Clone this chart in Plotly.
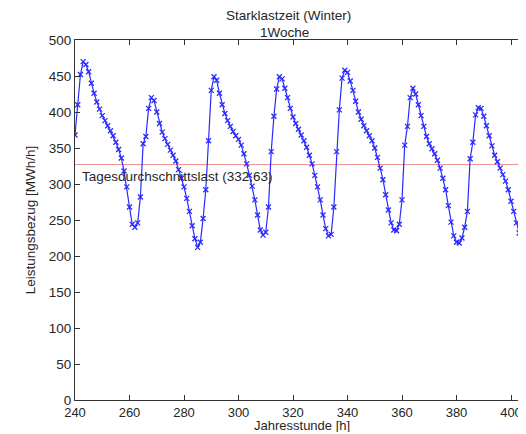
import plotly.graph_objects as go

hours = list(range(240, 406))
load = [
    368, 410, 452, 470, 466, 456, 440, 426, 414, 404,   # 240-249
    395, 388, 381, 374, 367, 358, 348, 336, 318, 296,   # 250-259
    268, 244, 240, 246, 282, 356, 366, 405, 420, 416,   # 260-269
    400, 384, 372, 363, 355, 347, 340, 332, 320, 308,   # 270-279
    296, 280, 262, 242, 224, 212, 219, 252, 292, 360,   # 280-289
    430, 449, 444, 426, 410, 398, 388, 380, 373, 367,   # 290-299
    362, 354, 342, 328, 312, 297, 278, 257, 236, 229,   # 300-309
    233, 268, 345, 394, 432, 449, 446, 433, 420, 405,   # 310-319
    393, 384, 376, 368, 360, 351, 340, 328, 312, 296,   # 320-329
    278, 257, 238, 228, 230, 268, 345, 403, 447, 458,   # 330-339
    455, 443, 430, 415, 400, 390, 381, 374, 367, 360,   # 340-349
    350, 337, 322, 306, 285, 264, 246, 236, 235, 244,   # 350-359
    278, 354, 380, 420, 433, 425, 410, 395, 380, 366,   # 360-369
    356, 349, 342, 333, 322, 308, 292, 270, 247, 228,   # 370-379
    219, 218, 225, 240, 262, 335, 358, 396, 406, 405,   # 380-389
    394, 381, 367, 353, 340, 331, 322, 313, 304, 292,   # 390-399
    276, 262, 246, 232, 220, 207,                       # 400-405
]
avg_line_value = 327
avg_label = "Tagesdurchschnittslast (332,63)"
title_line1 = "Starklastzeit (Winter)"
title_line2 = "1Woche"
x_title = "Jahresstunde [h]"
y_title = "Leistungsbezug [MWh/h]"

font = "Liberation Sans, Arial, sans-serif"
fs = 13.5
txt = "#262626"

# page body has an 8px offset; plot area spans window x 75..524, y 40..400
L, T = 67, 32
W, H = 516, 424
plot_w = W - L
plot_h = 360
B = H - T - plot_h
x_end = 240 + plot_w / 2.725

fig = go.Figure()
fig.add_trace(go.Scatter(
    x=[240, 410], y=[avg_line_value, avg_line_value], mode="lines",
    line=dict(color="#ee9090", width=1), hoverinfo="skip", showlegend=False))
fig.add_trace(go.Scatter(
    x=hours, y=load, mode="lines+markers",
    line=dict(color="#2a2aff", width=1.2),
    marker=dict(symbol="x-thin", size=5, line=dict(color="#2a2aff", width=1.3)),
    showlegend=False))

fig.add_annotation(x=242, y=avg_line_value, text=avg_label, xanchor="left", yanchor="top",
                   yshift=-2, showarrow=False, font=dict(family=font, size=fs, color=txt))

fig.add_annotation(xref="paper", yref="paper", x=(288 - 75) / plot_w, y=(400 - 15) / plot_h,
                   text=title_line1, showarrow=False, xanchor="center", yanchor="middle",
                   font=dict(family=font, size=fs, color=txt))
fig.add_annotation(xref="paper", yref="paper", x=(284 - 75) / plot_w, y=(400 - 32) / plot_h,
                   text=title_line2, showarrow=False, xanchor="center", yanchor="middle",
                   font=dict(family=font, size=fs, color=txt))
fig.add_annotation(xref="paper", yref="paper", x=(302 - 75) / plot_w, y=(400 - 425) / plot_h,
                   text=x_title, showarrow=False, xanchor="center", yanchor="middle",
                   font=dict(family=font, size=13, color=txt))

fig.update_layout(
    width=W, height=H,
    margin=dict(l=L, r=0, t=T, b=B, autoexpand=False),
    paper_bgcolor="white", plot_bgcolor="white",
    font=dict(family=font, size=fs, color=txt),
    xaxis=dict(range=[240, x_end], dtick=20, tick0=240, showgrid=False, zeroline=False,
               showline=True, linecolor="#333333", linewidth=1, mirror="ticks",
               ticks="inside", ticklen=5, tickcolor="#333333", automargin=False,
               tickfont=dict(size=13)),
    yaxis=dict(range=[0, 500], dtick=50, showgrid=False, zeroline=False,
               showline=True, linecolor="#333333", linewidth=1, automargin=False,
               ticks="inside", ticklen=5, tickcolor="#333333",
               title=dict(text=y_title, standoff=10, font=dict(size=fs))),
)
fig.write_html("out.html")
